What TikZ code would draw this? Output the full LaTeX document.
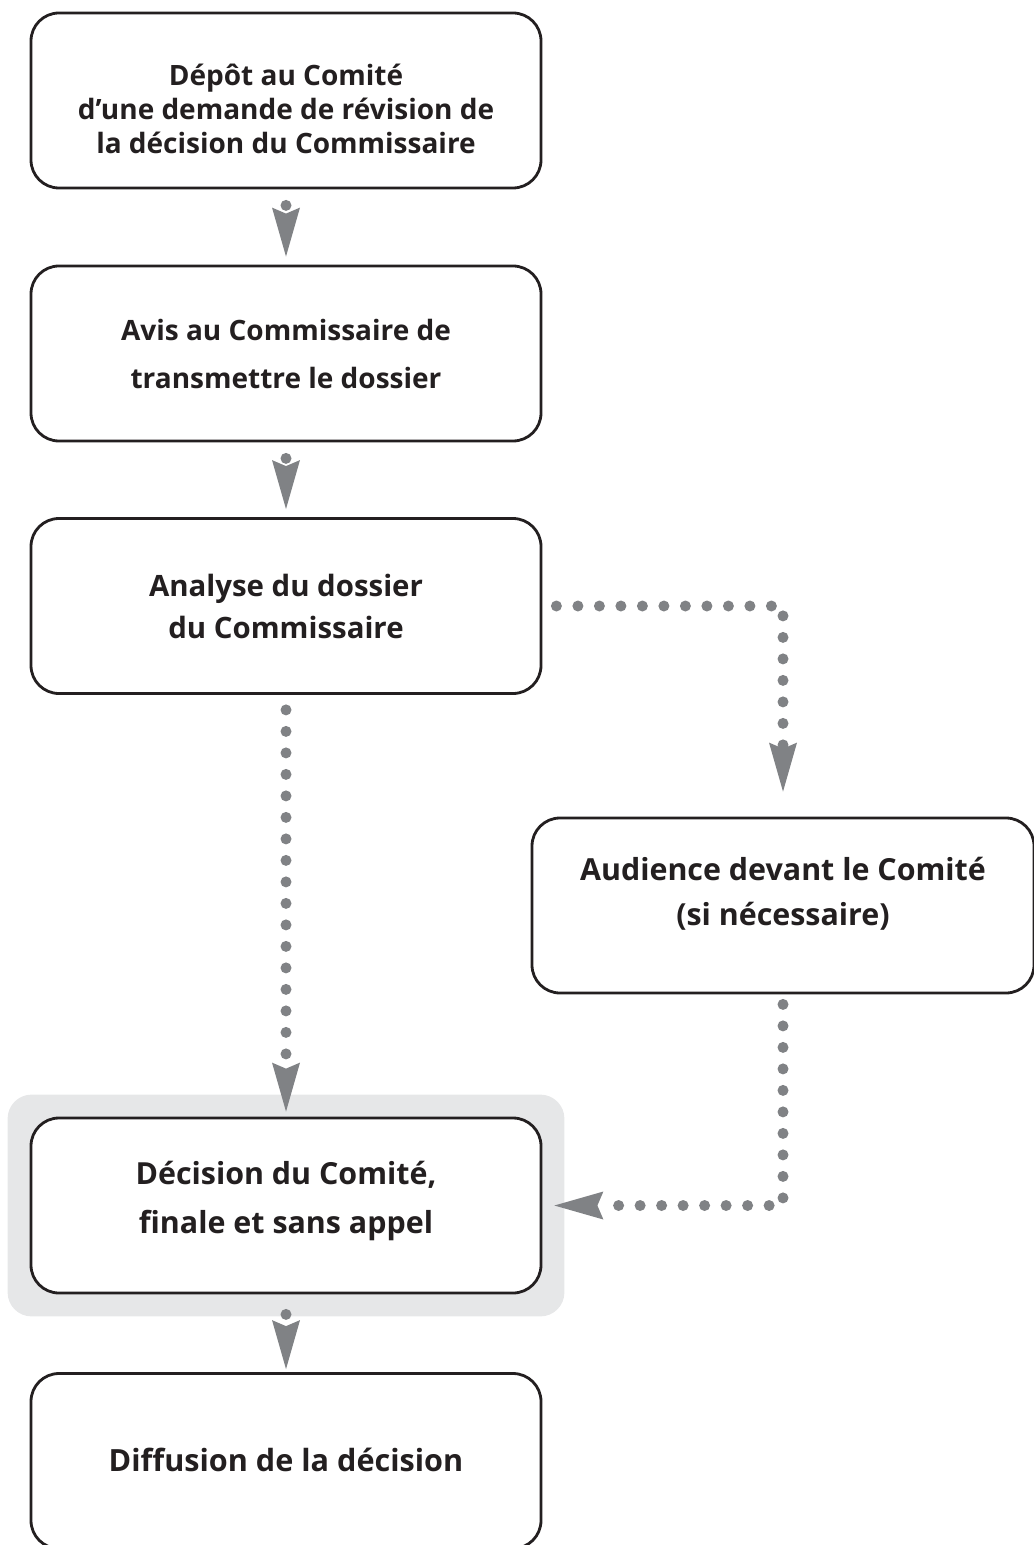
\documentclass[tikz,border=0pt]{standalone}
\usepackage{fontspec}
\setmainfont{Open Sans}
\usetikzlibrary{arrows.meta,positioning,fit,backgrounds}
\definecolor{boxline}{RGB}{35,31,32}
\definecolor{flowgray}{RGB}{128,130,133}
\definecolor{hilite}{RGB}{230,231,232}
\newcommand{\stagefont}[2]{\bfseries\fontsize{#1}{#2}\selectfont}

\tikzset{
  stage/.style={draw=boxline, fill=white, line width=1.4pt, rounded corners=14pt,
    minimum width=255pt, minimum height=87.5pt, inner sep=0pt},
  stagetext/.style={align=center, text=boxline, inner sep=0pt},
  flow/.style={draw=flowgray, line width=5.5pt, line cap=round,
    dash pattern=on 0pt off 10.75pt,
    -{Stealth[length=24.5pt,width=14pt,inset=3pt,line width=0pt]}},
  hilitebox/.style={fill=hilite, rounded corners=12pt, inner sep=11pt}
}

\begin{document}
\begin{tikzpicture}[x=0.5pt,y=-0.5pt]
\useasboundingbox (0,0) rectangle (1033,1545);

% Stages
\node[stage] (depot) at (286,100.5) {};
\node[stage] (avis) at (286,353.5) {};
\node[stage] (analyse) at (286,606) {};
\node[stage, minimum width=251pt] (audience) at (783,905.5) {};
\node[stage] (decision) at (286,1205.5) {};
\node[stage] (diffusion) at (286,1461) {};

% Texts
\node[stagetext, font=\stagefont{14}{17}] (depot-txt) at (286,109)
  {Dépôt au Comité\\d’une demande de révision de\\la décision du Commissaire};
\node[stagetext, font=\stagefont{14}{24}] (avis-txt) at (286,354)
  {Avis au Commissaire de\\transmettre le dossier};
\node[stagetext, font=\stagefont{14.7}{21}] (analyse-txt) at (286,606)
  {Analyse du dossier\\du Commissaire};
\node[stagetext, font=\stagefont{15.2}{22.5}] (audience-txt) at (783,893.5)
  {Audience devant le Comité\\(si nécessaire)};
\node[stagetext, font=\stagefont{15.2}{24.5}] (decision-txt) at (286,1200.5)
  {Décision du Comité,\\finale et sans appel};
\node[stagetext, font=\stagefont{15.3}{20}] (diffusion-txt) at (286,1460)
  {Diffusion de la décision};

% Highlight of the final decision
\begin{scope}[on background layer]
\node[hilitebox, fit=(decision)] (final) {};
\end{scope}

% Flow
\draw[flow, shorten <=8pt, shorten >=4pt] (depot) -- (avis);
\draw[flow, shorten <=8pt, shorten >=4pt] (avis) -- (analyse);
\draw[flow, shorten <=7.5pt, shorten >=2.5pt] (analyse) -- (decision);
\draw[flow, shorten <=7pt, shorten >=12.5pt] (analyse.east) -| (audience.north);
\draw[flow, shorten <=5pt, shorten >=6pt] (audience.south) |- (decision.east);
\draw[flow, shorten <=10pt, shorten >=1.5pt] (decision) -- (diffusion);
\end{tikzpicture}
\end{document}
